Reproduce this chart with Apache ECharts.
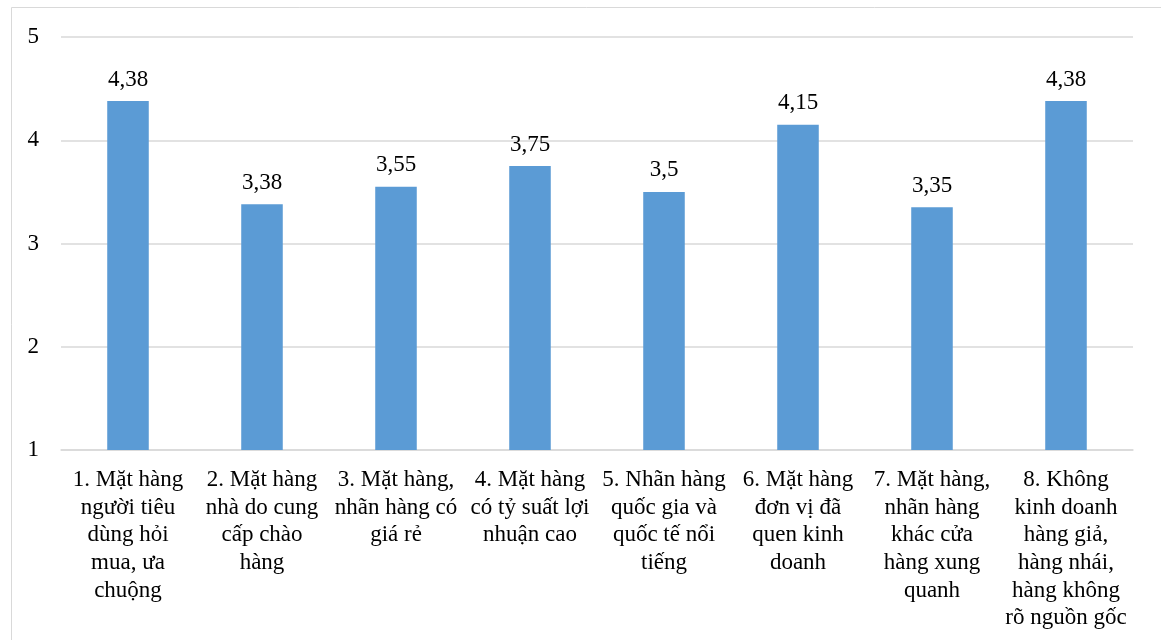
<!DOCTYPE html>
<html>
<head>
<meta charset="utf-8">
<script src="https://cdn.jsdelivr.net/npm/echarts@6/dist/echarts.min.js"></script>
<style>
  html, body { margin: 0; padding: 0; background: #fff; }
  #chart { width: 1161px; height: 640px; }
</style>
</head>
<body>
<div id="chart"></div>
<script>
// Category names (line breaks follow the wrapped axis labels)
const categories = [
  '1. Mặt hàng\nngười tiêu\ndùng hỏi\nmua, ưa\nchuộng',
  '2. Mặt hàng\nnhà do cung\ncấp chào\nhàng',
  '3. Mặt hàng,\nnhãn hàng có\ngiá rẻ',
  '4. Mặt hàng\ncó tỷ suất lợi\nnhuận cao',
  '5. Nhãn hàng\nquốc gia và\nquốc tế nổi\ntiếng',
  '6. Mặt hàng\nđơn vị đã\nquen kinh\ndoanh',
  '7. Mặt hàng,\nnhãn hàng\nkhác cửa\nhàng xung\nquanh',
  '8. Không\nkinh doanh\nhàng giả,\nhàng nhái,\nhàng không\nrõ nguồn gốc'
];
// Mean scores
const scores = [4.38, 3.38, 3.55, 3.75, 3.5, 4.15, 3.35, 4.38];
// Value axis range
const yMin = 1;
const yMax = 5;
const yStep = 1;

const FONT = "'Liberation Serif', 'Times New Roman', serif";
const chart = echarts.init(document.getElementById('chart'));
chart.setOption({
  backgroundColor: '#fff',
  animation: false,
  textStyle: { fontFamily: FONT },
  graphic: [{
    type: 'rect',
    shape: { x: 11.5, y: 7.5, width: 1200, height: 700 },
    style: { fill: 'none', stroke: '#d9d9d9', lineWidth: 1 },
    silent: true,
    z: -10
  }],
  grid: { left: 61, right: 28, top: 37, bottom: 190, containLabel: false },
  xAxis: {
    type: 'category',
    data: categories,
    axisLine: { show: true, lineStyle: { color: '#d9d9d9', width: 1.5 } },
    axisTick: { show: false },
    axisLabel: {
      interval: 0,
      margin: 16,
      color: '#000',
      fontFamily: FONT,
      fontSize: 23,
      lineHeight: 27.7,
      align: 'center'
    }
  },
  yAxis: {
    type: 'value',
    min: yMin,
    max: yMax,
    interval: yStep,
    axisLine: { show: false },
    axisTick: { show: false },
    splitLine: { lineStyle: { color: '#d9d9d9', width: 1.5 } },
    axisLabel: {
      margin: 22,
      color: '#000',
      fontFamily: FONT,
      fontSize: 23
    }
  },
  series: [{
    type: 'bar',
    data: scores,
    barWidth: '31%',
    itemStyle: { color: '#5b9bd5' },
    label: {
      show: true,
      position: 'top',
      distance: 10,
      color: '#000',
      fontFamily: FONT,
      fontSize: 23,
      formatter: p => String(p.value).replace('.', ',')
    }
  }]
});
</script>
</body>
</html>
